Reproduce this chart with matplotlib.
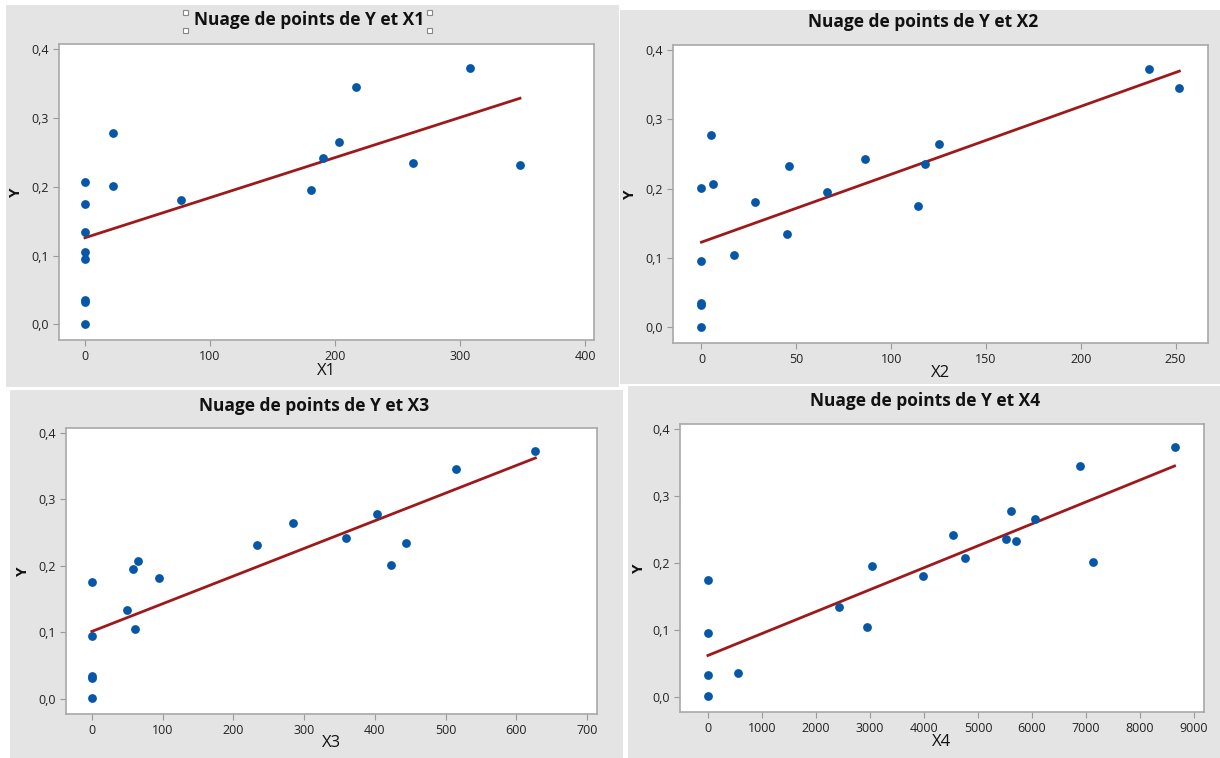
import matplotlib.pyplot as plt
import numpy as np
from matplotlib.patches import Rectangle
from matplotlib.ticker import FuncFormatter

y = [0.372, 0.345, 0.278, 0.265, 0.242, 0.235, 0.232, 0.207, 0.201,
     0.195, 0.181, 0.175, 0.134, 0.105, 0.095, 0.035, 0.032, 0.001]
x1 = [308, 217, 22, 203, 190, 262, 348, 0, 22, 181, 77, 0, 0, 0, 0, 0, 0, 0]
x2 = [236, 252, 5, 125, 86, 118, 46, 6, 0, 66, 28, 114, 45, 17, 0, 0, 0, 0]
x3 = [627, 515, 403, 284, 360, 444, 234, 65, 423, 58, 95, 0, 50, 61, 0, 0, 0, 0]
x4 = [8640, 6880, 5620, 6060, 4540, 5510, 5710, 4760, 7130, 3030, 3990, 0,
      2420, 2950, 0, 560, 0, 0]

x_ticks = {
    "X1": [0, 100, 200, 300, 400],
    "X2": [0, 50, 100, 150, 200, 250],
    "X3": [0, 100, 200, 300, 400, 500, 600, 700],
    "X4": [0, 1000, 2000, 3000, 4000, 5000, 6000, 7000, 8000, 9000],
}
y_ticks = [0.0, 0.1, 0.2, 0.3, 0.4]

W, H = 1220, 758
GRAY = "#e4e4e4"
BLUE = "#0757a8"
RED = "#9e1a1a"

plt.rcParams['font.family'] = ['Open Sans', 'DejaVu Sans']

fig = plt.figure(figsize=(W / 100, H / 100), dpi=100)
fig.patch.set_facecolor("white")


def px_rect(l, t, r, b):
    # rectangle en pixels -> fraction de figure
    return [l / W, 1 - b / H, (r - l) / W, (b - t) / H]


# panneau gris, zone du graphe, limites x, titre (x, y), ylabel x (bord droit), xlabel y (haut)
panels = [
    ("X1", x1, (6, 5, 619, 387), (59, 44, 594, 340), (-20.8, 407.2), (309, 20), 23, 363),
    ("X2", x2, (620, 10, 1220, 384), (673, 45, 1208, 343), (-15.0, 267.1), (923, 22), 637, 365),
    ("X3", x3, (10, 390, 623, 758), (66, 428, 597, 714), (-36.5, 714.1), (314, 406), 30, 735),
    ("X4", x4, (628, 386, 1220, 758), (680, 424, 1204, 712), (-517, 9185), (925, 401), 646, 734),
]

for name, xs, bg, box, xlim, tpos, ylab_x, xlab_y in panels:
    fig.patches.append(Rectangle((bg[0] / W, 1 - bg[3] / H), (bg[2] - bg[0]) / W,
                                 (bg[3] - bg[1]) / H, transform=fig.transFigure,
                                 facecolor=GRAY, edgecolor="none", zorder=-10))
    ax = fig.add_axes(px_rect(*box))
    ax.set_facecolor("white")
    ax.scatter(xs, y, s=40, color=BLUE, zorder=3, linewidths=0)
    a, b = np.polyfit(xs, y, 1)
    xl = np.array([min(xs), max(xs)])
    ax.plot(xl, a * xl + b, color=RED, lw=2, zorder=2)

    ax.set_xlim(*xlim)
    ax.set_ylim(-0.0225, 0.407)
    ax.set_xticks(x_ticks[name])
    ax.set_yticks(y_ticks)
    ax.yaxis.set_major_formatter(FuncFormatter(lambda v, p: f"{v:.1f}".replace(".", ",")))
    ax.tick_params(labelsize=9, colors="#222222", length=4, width=0.8)
    ax.tick_params(axis="both", color="#9a9a9a")
    for s in ax.spines.values():
        s.set_color("#a8a8a8")
        s.set_linewidth(1.2)

    ax.set_ylabel("Y", fontsize=11, color="#111111", fontweight="bold")
    ax.set_xlabel(name, fontsize=12, color="#111111")
    bw = box[2] - box[0]
    bh = box[3] - box[1]
    ax.yaxis.set_label_coords((ylab_x - box[0]) / bw, 0.5)
    ax.xaxis.set_label_coords(0.5, -(xlab_y - box[3]) / bh)

    fig.text(tpos[0] / W, 1 - tpos[1] / H, f"Nuage de points de Y et {name}",
             ha="center", va="center", fontsize=12.5, fontweight="bold",
             color="#111111")

# poignées de sélection autour du premier titre
for hx, hy in [(183, 10), (183, 28), (427, 10), (427, 28)]:
    fig.patches.append(Rectangle((hx / W, 1 - (hy + 5) / H), 5 / W, 5 / H,
                                 transform=fig.transFigure, facecolor="white",
                                 edgecolor="#888888", lw=0.8, zorder=5))

plt.savefig("out.png", dpi=100)
plt.close()
